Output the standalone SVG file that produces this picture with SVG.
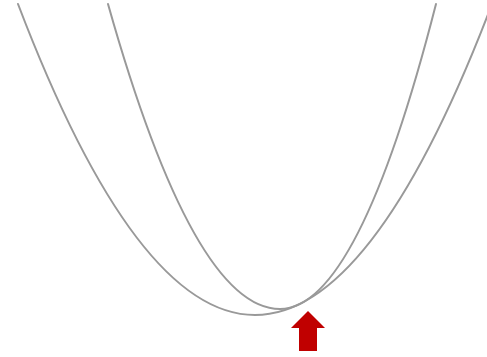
<svg xmlns="http://www.w3.org/2000/svg" width="487" height="357" viewBox="0 0 487 357">
<style>
.curve{fill:none;stroke:#999999;stroke-width:2;stroke-linecap:round}
.arrow{fill:#c00000;stroke:none}
</style>
<rect width="487" height="357" fill="#ffffff"/>
<g id="curves">
<path id="wide" class="curve" d="M18,4 Q136.5,315 255,315 Q373.5,315 492,4"/>
<path id="narrow" class="curve" d="M108,4 Q194,309 280,309 Q358,309 436,4"/>
</g>
<g id="marker-arrow">
<polygon class="arrow" points="308,311 325,328 317,328 317,351 299,351 299,328 291,328"/>
</g>
</svg>
